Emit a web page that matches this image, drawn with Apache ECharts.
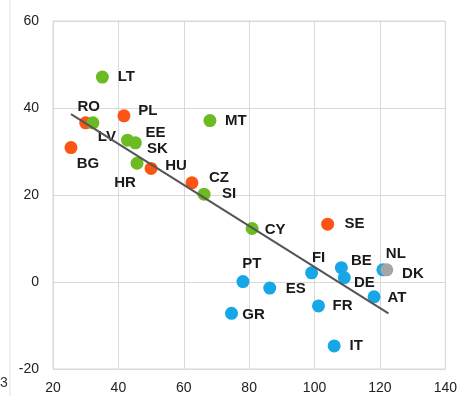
<!DOCTYPE html>
<html>
<head>
<meta charset="utf-8">
<script src="https://cdn.jsdelivr.net/npm/echarts@6/dist/echarts.min.js"></script>
<style>
  html, body { margin: 0; padding: 0; background: #fff; }
  #main { width: 460px; height: 396px; }
</style>
</head>
<body>
<div id="main"></div>
<script>
// country codes, x and y values per colour group
var greenNames = ['LT', 'LV', 'EE', 'SK', 'HR', 'MT', 'SI', 'CY'];
var greenX = [35.1, 32.2, 42.8, 45.2, 45.7, 68.0, 66.2, 80.9];
var greenY = [47.1, 36.6, 32.6, 32.0, 27.3, 37.1, 20.2, 12.3];

var orangeNames = ['RO', 'PL', 'BG', 'HU', 'CZ', 'SE'];
var orangeX = [30.0, 41.7, 25.5, 50.0, 62.5, 104.0];
var orangeY = [36.6, 38.2, 30.9, 26.1, 22.8, 13.3];

var blueNames = ['FI', 'BE', 'DE', 'DK', 'AT', 'FR', 'IT', 'PT', 'ES', 'GR'];
var blueX = [99.1, 108.2, 109.1, 120.9, 118.2, 101.2, 106.0, 78.1, 86.3, 74.6];
var blueY = [2.1, 3.3, 1.0, 2.8, -3.4, -5.5, -14.7, 0.1, -1.4, -7.2];

var grayNames = ['NL'];
var grayX = [122.1];
var grayY = [2.8];

// fitted line end points
var trendX = [25.5, 122.6];
var trendY = [38.6, -7.2];

var xTicks = [20, 40, 60, 80, 100, 120, 140];
var yTicks = [-20, 0, 20, 40, 60];

// label offsets (px) from point centre
var labelOffset = {
  LT: [24, 0], RO: [3, -16], LV: [14, 14], PL: [24, -5], EE: [28, -7],
  SK: [22, 6], HR: [-12, 20], HU: [25, -3], BG: [17, 16], MT: [26, 0],
  CZ: [27, -5], SI: [25, 0], CY: [23, 1], SE: [27, 0], FI: [7, -15],
  BE: [20, -7], DE: [20, 5], NL: [9, -16], DK: [30, 4], AT: [23, 1],
  FR: [24, 0], IT: [22, 0], PT: [9, -18], ES: [26, 1], GR: [22, 2]
};

function makePoints(names, xs, ys) {
  return names.map(function (n, i) {
    return {
      name: n,
      value: [xs[i], ys[i]],
      label: { offset: labelOffset[n] }
    };
  });
}

function scatter(names, xs, ys, color) {
  return {
    type: 'scatter',
    symbolSize: 13,
    itemStyle: { color: color, opacity: 1 },
    label: {
      show: true,
      position: 'inside',
      formatter: '{b}',
      color: '#1a1a1a',
      fontSize: 15,
      fontWeight: 'bold',
      fontFamily: 'Liberation Sans, Arial, sans-serif'
    },
    data: makePoints(names, xs, ys),
    z: 3
  };
}

var myChart = echarts.init(document.getElementById('main'));

var option = {
  animation: false,
  grid: { left: 53, right: 12, top: 21, bottom: 27, show: true, borderColor: '#d9d9d9', borderWidth: 1 },
  xAxis: {
    type: 'value',
    min: xTicks[0],
    max: xTicks[xTicks.length - 1],
    interval: 20,
    axisLine: { show: true, lineStyle: { color: '#d9d9d9' } },
    axisTick: { show: false },
    splitLine: { lineStyle: { color: '#d9d9d9' } },
    axisLabel: { color: '#222', fontSize: 14, margin: 12, fontFamily: 'Liberation Sans, Arial, sans-serif' }
  },
  yAxis: {
    type: 'value',
    min: yTicks[0],
    max: yTicks[yTicks.length - 1],
    interval: 20,
    axisLine: { show: true, lineStyle: { color: '#d9d9d9' } },
    axisTick: { show: false },
    splitLine: { lineStyle: { color: '#d9d9d9' } },
    axisLabel: { color: '#222', fontSize: 14, margin: 14, fontFamily: 'Liberation Sans, Arial, sans-serif' }
  },
  graphic: [
    { type: 'line', shape: { x1: 10, y1: 0, x2: 10, y2: 396 }, style: { stroke: '#e3e3e3', lineWidth: 1 } },
    { type: 'text', left: 0, top: 376, style: { text: '3', fill: '#333', fontSize: 14, fontFamily: 'Liberation Sans, Arial, sans-serif' } }
  ],
  series: [
    scatter(blueNames, blueX, blueY, '#17a6e6'),
    scatter(grayNames, grayX, grayY, '#a5a5a5'),
    scatter(orangeNames, orangeX, orangeY, '#fa5514'),
    scatter(greenNames, greenX, greenY, '#6cbb23'),
    {
      type: 'line',
      data: trendX.map(function (x, i) { return [x, trendY[i]]; }),
      symbol: 'none',
      lineStyle: { color: '#555', width: 2 },
      z: 4
    }
  ]
};

myChart.setOption(option);
</script>
</body>
</html>
